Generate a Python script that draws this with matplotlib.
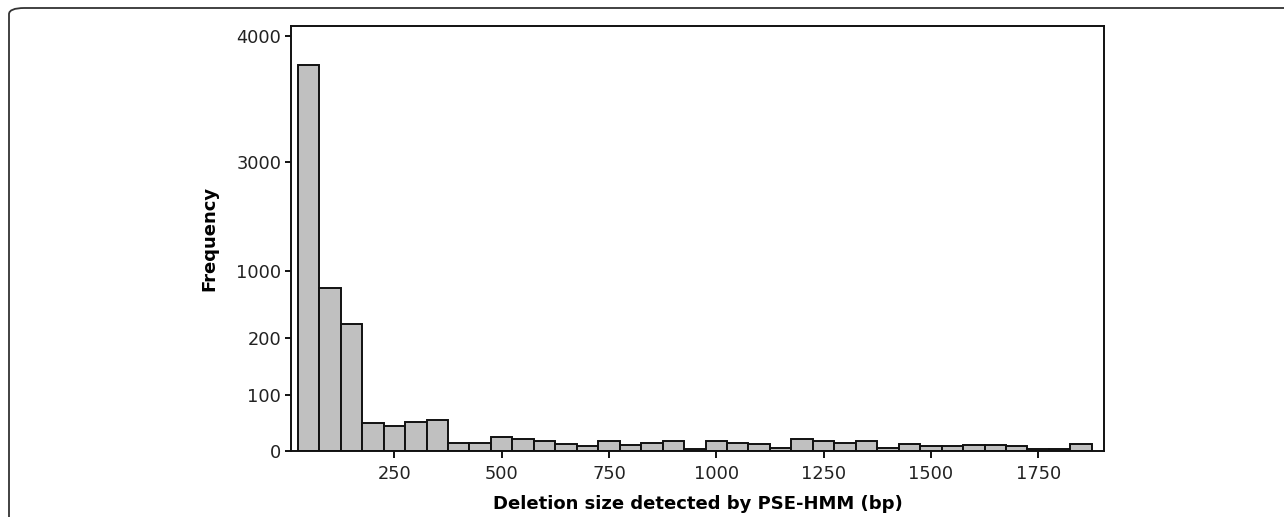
import numpy as np
import matplotlib
matplotlib.use("Agg")
import matplotlib.pyplot as plt
from matplotlib.patches import FancyBboxPatch

# histogram bins (50 bp wide, 25..1875)
bin_edges = np.arange(25, 1876, 50)
counts = [3765, 799, 377, 49, 45, 52, 54, 15, 15, 24, 21, 18, 12, 8, 18, 11,
          15, 18, 3, 18, 15, 12, 6, 21, 18, 15, 18, 6, 12, 8, 8, 11, 11, 9,
          3, 3, 12]

# segmented y axis: tick values and their relative positions on the axis
yticks = [0, 100, 200, 1000, 3000, 4000]
seg_vals = np.array([-100, 0, 100, 200, 1000, 3000, 4000, 5000], dtype=float)
seg_pos = np.array([-56.4, 0, 56.4, 112.4, 180.0, 289.0, 415.0, 541.0])
xticks = [250, 500, 750, 1000, 1250, 1500, 1750]


def fwd(v):
    return np.interp(v, seg_vals, seg_pos)


def inv(p):
    return np.interp(p, seg_pos, seg_vals)


plt.rcParams['font.family'] = 'DejaVu Sans'

fig = plt.figure(figsize=(12.84, 5.17), dpi=100)
ax = fig.add_axes([0.2266, 0.1277, 0.6334, 0.822])

ax.set_yscale('function', functions=(fwd, inv))
widths = np.diff(bin_edges)
ax.bar(bin_edges[:-1], counts, width=widths, align='edge',
       color='#c0c0c0', edgecolor='#111111', linewidth=1.4)

ax.set_xlim(9, 1904)
ax.set_ylim(0, 4076)
ax.set_yticks(yticks)
ax.set_yticklabels([str(t) for t in yticks])
ax.set_xticks(xticks)
ax.set_xticklabels([str(t) for t in xticks])
ax.minorticks_off()

for s in ax.spines.values():
    s.set_linewidth(1.4)
    s.set_color('#111111')
ax.tick_params(axis='both', labelsize=12.8, width=1.4, color='#111111',
               labelcolor='#222222')
ax.tick_params(axis='y', length=4, pad=3)
ax.tick_params(axis='x', length=5, pad=5)

ax.set_xlabel('Deletion size detected by PSE-HMM (bp)', fontsize=13,
              fontweight='bold', labelpad=9)
ax.set_ylabel('Frequency', fontsize=13, fontweight='bold', labelpad=13)

# rounded frame around the figure (open to the right and bottom)
frame = FancyBboxPatch((9 / 1284, -0.2), 1.2, 1.2 - 8 / 517,
                       boxstyle='round,pad=0,rounding_size=0.012',
                       transform=fig.transFigure, fill=False,
                       edgecolor='#333333', linewidth=1.3)
fig.patches.append(frame)

fig.savefig('out.png', dpi=100)
